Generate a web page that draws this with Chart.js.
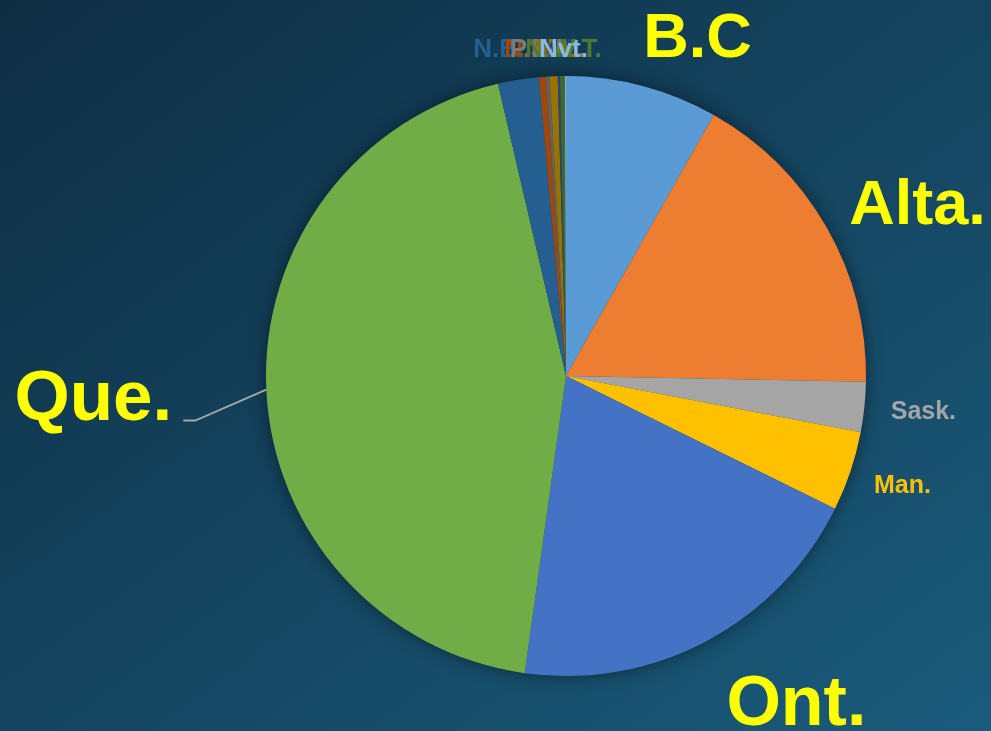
<!DOCTYPE html>
<html>
<head>
<meta charset="utf-8">
<script src="https://cdn.jsdelivr.net/npm/chart.js@4/dist/chart.umd.min.js"></script>
<style>
  html, body { margin: 0; padding: 0; }
  body {
    width: 991px; height: 731px; overflow: hidden;
    background: linear-gradient(to bottom right, #0e2d43, #1a5b7b);
  }
  #wrap { width: 991px; height: 731px; position: relative; }
</style>
</head>
<body>
<div id="wrap"><canvas id="pieChart"></canvas></div>
<script>
// Province shares, clockwise from 12 o'clock
const provinces = ['B.C', 'Alta.', 'Sask.', 'Man.', 'Ont.', 'Que.', 'N.B.', 'N.S.', 'P.E.I.', 'N.L.', 'Y.T.', 'N.W.T.', 'Nvt.'];
const shares = [8.2, 17.1, 2.7, 4.3, 19.9, 44.16, 2.2, 0.39, 0.18, 0.43, 0.12, 0.26, 0.06];
const sliceColors = ['#5b9bd5', '#ed7d31', '#a5a5a5', '#ffc000', '#4472c4', '#70ad47',
                     '#255e91', '#9e480e', '#636363', '#997300', '#264478', '#43682b', '#7cafdd'];

// label look: font size, colour, nudge from the slice's outer midpoint
const labelStyle = [
    { size: 63, color: '#ffff00', dx: 55, dy: -46 },
    { size: 63, color: '#ffff00', dx: 91, dy: -21 },
    { size: 25, color: '#a5a5a5', dx: 59, dy: 5 },
    { size: 25, color: '#ffc000', dx: 52, dy: 15 },
    { size: 70, color: '#ffff00', dx: 90, dy: 65 },
    { size: 71, color: '#ffff00', dx: -173, dy: 11, leader: true },
    { size: 26, color: '#255e91', dx: -19, dy: -30 },
    { size: 26, color: '#9e480e', dx: -13, dy: -27 },
    { size: 26, color: '#7a7a7a', dx: -8, dy: -27 },
    { size: 26, color: '#997300', dx: 6, dy: -26 },
    { size: 26, color: '#264478', dx: 2, dy: -26 },
    { size: 26, color: '#4e7a30', dx: 1, dy: -26 },
    { size: 26, color: '#8ab8e0', dx: -2, dy: -26 }
];

// soft shadow behind the whole pie
const pieShadow = {
    id: 'pieShadow',
    beforeDatasetsDraw(chart) {
        const arc = chart.getDatasetMeta(0).data[0];
        if (!arc) return;
        const c = chart.ctx;
        c.save();
        c.shadowColor = 'rgba(0,0,0,0.45)';
        c.shadowBlur = 18;
        c.fillStyle = '#1c3c50';
        c.beginPath();
        c.arc(arc.x, arc.y, arc.outerRadius, 0, Math.PI * 2);
        c.fill();
        c.restore();
    }
};

// text labels outside the slices
const sliceLabels = {
    id: 'sliceLabels',
    afterDatasetsDraw(chart) {
        const c = chart.ctx;
        const meta = chart.getDatasetMeta(0);
        meta.data.forEach((arc, i) => {
            const st = labelStyle[i];
            const mid = (arc.startAngle + arc.endAngle) / 2;
            const px = arc.x + Math.cos(mid) * arc.outerRadius;
            const py = arc.y + Math.sin(mid) * arc.outerRadius;
            c.save();
            if (st.leader) {
                c.strokeStyle = '#a6a6a6';
                c.lineWidth = 2;
                c.beginPath();
                c.moveTo(px, py);
                c.lineTo(px - 71, py + 31);
                c.lineTo(px - 83, py + 31);
                c.stroke();
            }
            c.font = 'bold ' + st.size + 'px "Liberation Sans", Arial, sans-serif';
            c.fillStyle = st.color;
            c.textAlign = 'center';
            c.textBaseline = 'middle';
            c.fillText(provinces[i], px + st.dx, py + st.dy);
            c.restore();
        });
    }
};

const ctx = document.getElementById('pieChart').getContext('2d');
const pieChart = new Chart(ctx, {
    type: 'pie',
    data: {
        labels: provinces,
        datasets: [{
            data: shares,
            backgroundColor: sliceColors,
            borderWidth: 0,
            offset: 0,
            hoverOffset: 0
        }]
    },
    options: {
        responsive: true,
        maintainAspectRatio: false,
        animation: false,
        events: [],
        layout: {
            padding: { top: 76, bottom: 55, left: 266, right: 125 }
        },
        plugins: {
            legend: { display: false },
            tooltip: { enabled: false }
        }
    },
    plugins: [pieShadow, sliceLabels]
});
</script>
</body>
</html>
